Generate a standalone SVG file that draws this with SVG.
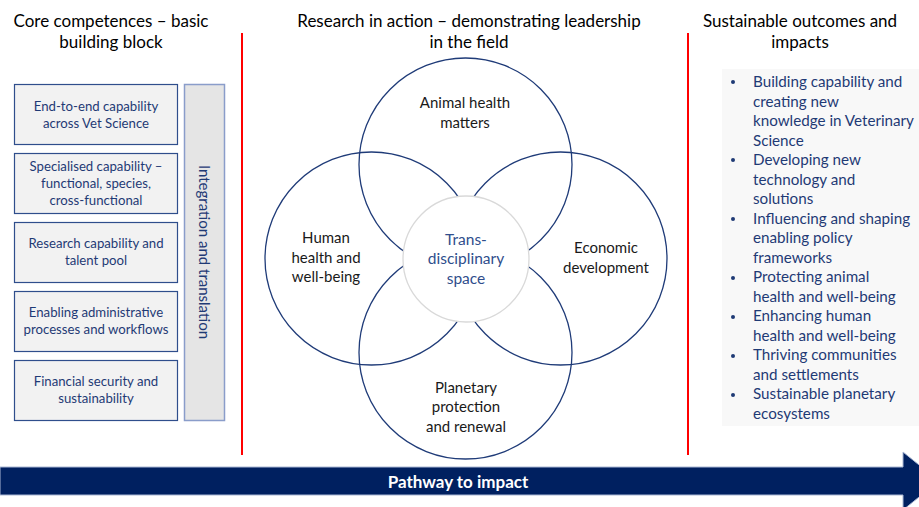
<svg xmlns="http://www.w3.org/2000/svg" width="919" height="507" viewBox="0 0 919 507">
  <style>
    .title { font-family: Lato, "Liberation Sans", sans-serif; font-size: 17px; fill: #000; text-anchor: middle; }
    .box { fill: #f2f2f2; stroke: #2f4e8c; stroke-width: 1.2; }
    .boxtxt { font-family: Lato, "Liberation Sans", sans-serif; font-size: 13.2px; fill: #1f3a75; text-anchor: middle; }
    .bar { fill: #e5e5e5; stroke: #8a9dca; stroke-width: 1.5; }
    .bartxt { font-family: Lato, "Liberation Sans", sans-serif; font-size: 15px; fill: #1f3a75; text-anchor: middle; }
    .ring { fill: none; stroke: #1f3b78; stroke-width: 1.3; }
    .core { fill: #ffffff; stroke: #d9d9d9; stroke-width: 1.3; }
    .vlabel { font-family: Lato, "Liberation Sans", sans-serif; font-size: 15px; fill: #1a1a1a; text-anchor: middle; }
    .clabel { font-family: Lato, "Liberation Sans", sans-serif; font-size: 15.5px; fill: #2f4e8c; text-anchor: middle; }
    .divider { stroke: #ff0000; stroke-width: 2; }
    .outcome { font-family: Lato, "Liberation Sans", sans-serif; font-size: 15.2px; fill: #1f3a75; }
    .bullet { fill: #1f3a75; }
  </style>

  <!-- column headings -->
  <g id="heading-core">
    <text class="title" x="111" y="27">Core competences – basic</text>
    <text class="title" x="111" y="48">building block</text>
  </g>
  <g id="heading-research">
    <text class="title" x="469" y="27">Research in action – demonstrating leadership</text>
    <text class="title" x="469" y="48">in the field</text>
  </g>
  <g id="heading-outcomes">
    <text class="title" x="800" y="27">Sustainable outcomes and</text>
    <text class="title" x="800" y="48">impacts</text>
  </g>

  <!-- column dividers -->
  <line class="divider" x1="242" y1="33" x2="242" y2="455"/>
  <line class="divider" x1="688" y1="33" x2="688" y2="455"/>

  <!-- core competence blocks -->
  <g id="block-end-to-end">
    <rect class="box" x="14.5" y="84.5" width="163" height="60"/>
    <text class="boxtxt" x="96" y="111">End-to-end capability</text>
    <text class="boxtxt" x="96" y="128">across Vet Science</text>
  </g>
  <g id="block-specialised">
    <rect class="box" x="14.5" y="153.5" width="163" height="60"/>
    <text class="boxtxt" x="96" y="171">Specialised capability –</text>
    <text class="boxtxt" x="96" y="188">functional, species,</text>
    <text class="boxtxt" x="96" y="205">cross-functional</text>
  </g>
  <g id="block-research">
    <rect class="box" x="14.5" y="222.5" width="163" height="60"/>
    <text class="boxtxt" x="96" y="248">Research capability and</text>
    <text class="boxtxt" x="96" y="265">talent pool</text>
  </g>
  <g id="block-admin">
    <rect class="box" x="14.5" y="291.5" width="163" height="60"/>
    <text class="boxtxt" x="96" y="317">Enabling administrative</text>
    <text class="boxtxt" x="96" y="334">processes and workflows</text>
  </g>
  <g id="block-financial">
    <rect class="box" x="14.5" y="360.5" width="163" height="60"/>
    <text class="boxtxt" x="96" y="386">Financial security and</text>
    <text class="boxtxt" x="96" y="403">sustainability</text>
  </g>
  <g id="block-integration">
    <rect class="bar" x="184.5" y="84.5" width="40" height="336"/>
    <text class="bartxt" transform="translate(199 252) rotate(90)" x="0" y="0">Integration and translation</text>
  </g>

  <!-- overlapping research domains -->
  <g id="domain-animal">
    <circle class="ring" cx="465.5" cy="164.5" r="106.5"/>
    <text class="vlabel" x="465" y="108">Animal health</text>
    <text class="vlabel" x="465" y="128">matters</text>
  </g>
  <g id="domain-human">
    <circle class="ring" cx="371.5" cy="258.5" r="106.5"/>
    <text class="vlabel" x="326" y="243">Human</text>
    <text class="vlabel" x="326" y="263">health and</text>
    <text class="vlabel" x="326" y="282">well-being</text>
  </g>
  <g id="domain-economic">
    <circle class="ring" cx="560.5" cy="258.5" r="106.5"/>
    <text class="vlabel" x="606" y="253">Economic</text>
    <text class="vlabel" x="606" y="273">development</text>
  </g>
  <g id="domain-planetary">
    <circle class="ring" cx="465.5" cy="352.5" r="106.5"/>
    <text class="vlabel" x="466" y="393">Planetary</text>
    <text class="vlabel" x="466" y="412">protection</text>
    <text class="vlabel" x="466" y="432">and renewal</text>
  </g>
  <g id="domain-core">
    <circle class="core" cx="466" cy="259" r="63"/>
    <text class="clabel" x="466" y="245">Trans-</text>
    <text class="clabel" x="466" y="264">disciplinary</text>
    <text class="clabel" x="466" y="284">space</text>
  </g>

  <!-- outcomes list -->
  <g id="outcomes">
    <rect x="722" y="69" width="197" height="357" fill="#f8f8f8"/>
    <g class="bullet">
      <circle cx="733" cy="82" r="2"/>
      <circle cx="733" cy="160" r="2"/>
      <circle cx="733" cy="219" r="2"/>
      <circle cx="733" cy="278" r="2"/>
      <circle cx="733" cy="317" r="2"/>
      <circle cx="733" cy="356" r="2"/>
      <circle cx="733" cy="395" r="2"/>
    </g>
    <g class="outcome">
      <text x="753" y="87">Building capability and</text>
      <text x="753" y="106.5">creating new</text>
      <text x="753" y="126">knowledge in Veterinary</text>
      <text x="753" y="145.5">Science</text>
      <text x="753" y="165">Developing new</text>
      <text x="753" y="184.5">technology and</text>
      <text x="753" y="204">solutions</text>
      <text x="753" y="223.5">Influencing and shaping</text>
      <text x="753" y="243">enabling policy</text>
      <text x="753" y="262.5">frameworks</text>
      <text x="753" y="282">Protecting animal</text>
      <text x="753" y="301.5">health and well-being</text>
      <text x="753" y="321">Enhancing human</text>
      <text x="753" y="340.5">health and well-being</text>
      <text x="753" y="360">Thriving communities</text>
      <text x="753" y="379.5">and settlements</text>
      <text x="753" y="399">Sustainable planetary</text>
      <text x="753" y="418.5">ecosystems</text>
    </g>
  </g>

  <!-- pathway arrow -->
  <g id="pathway">
    <path d="M0 467 H903 V452 L939 481 L903 510 V495 H0 Z" fill="#002060" stroke="#a9b6d3" stroke-width="1"/>
    <text x="458" y="487.5" font-family="Lato, 'Liberation Sans', sans-serif" font-size="17px" font-weight="bold" fill="#ffffff" text-anchor="middle">Pathway to impact</text>
  </g>
</svg>
